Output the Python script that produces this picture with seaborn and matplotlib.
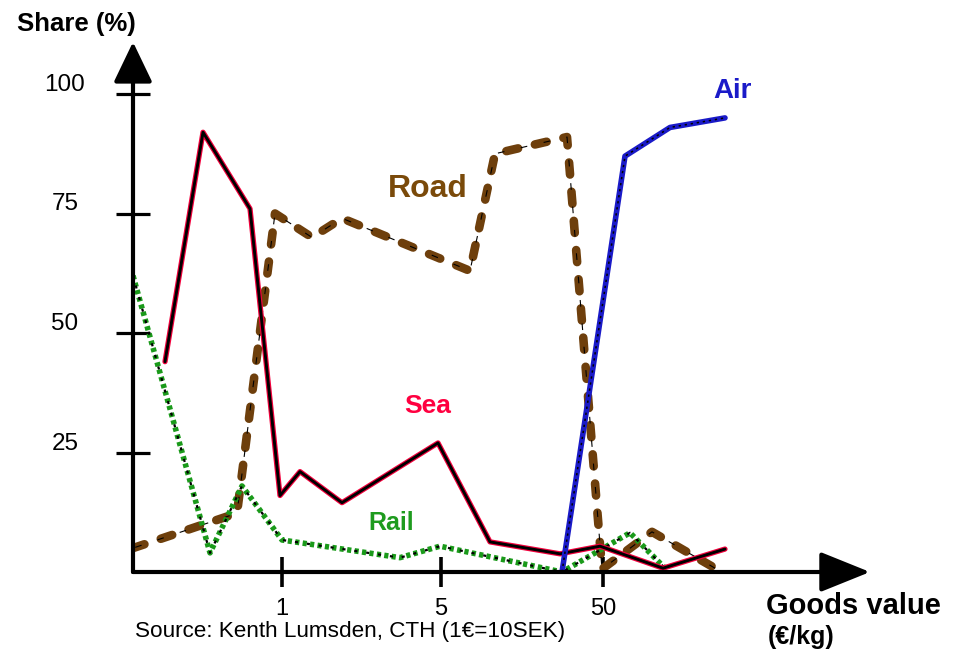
import matplotlib
matplotlib.use('Agg')
import matplotlib.pyplot as plt
import seaborn as sns
import pandas as pd

# Positions along the (non-uniform) goods-value axis, in axis units from the origin
sea_x = [32, 70, 117, 147, 167, 209, 305, 357, 427, 467, 530, 592]
sea_y = [44, 92, 76, 16, 21, 14.5, 27, 6.3, 3.8, 5.4, 0.8, 4.8]
road_x = [0, 104, 142, 179, 209, 337, 362, 434, 469, 519, 587]
road_y = [5, 12.3, 75, 70, 74, 63, 87.5, 91, 0.6, 8.4, 0.2]
rail_x = [0, 77, 109, 149, 267, 307, 429, 497, 532]
rail_y = [62, 4, 18, 6.7, 3, 5.4, 0, 8.2, 0.8]
air_x = [429, 492, 537, 592]
air_y = [0, 87, 93, 95]

y_ticks = [25, 50, 75, 100]
y_tick_labels = ['25', '50', '75', '100']
x_tick_pos = [149, 308, 470]
x_tick_labels = ['1', '5', '50']

sns.set_theme(style='white')
plt.rcParams['font.family'] = ['Liberation Sans', 'DejaVu Sans']

W, H = 961, 649
fig = plt.figure(figsize=(W / 100, H / 100), dpi=100)
fig.patch.set_facecolor('white')
ax = fig.add_axes([133 / W, (H - 572) / H, (870 - 133) / W, (572 - 42) / H])
ax.set_facecolor('white')
ax.set_xlim(0, 737)
ax.set_ylim(0, 530 / 4.78)
for s in ax.spines.values():
    s.set_visible(False)
ax.grid(False)

BROWN = '#6e3f0c'
GREEN = '#1a9a1a'
RED = '#f2003c'
BLUE = '#1a1ac8'

# Road: thick brown dashes with thin black centre
sns.lineplot(x=road_x, y=road_y, ax=ax, color=BROWN, lw=6.2, sort=False,
             estimator=None, linestyle=(0, (1.4, 2.0)), dash_capstyle='round',
             solid_joinstyle='round', zorder=3)
sns.lineplot(x=road_x, y=road_y, ax=ax, color='black', lw=0.8, sort=False,
             estimator=None, linestyle=(19.0, (6, 15.1)), zorder=3.1)

# Rail: green dotted with black dots
sns.lineplot(x=rail_x, y=rail_y, ax=ax, color=GREEN, lw=4.0, sort=False,
             estimator=None, linestyle=(0, (0.75, 0.6)), zorder=4)
sns.lineplot(x=rail_x, y=rail_y, ax=ax, color='black', lw=1.6, sort=False,
             estimator=None, linestyle=(0.8, (1.4, 4.0)), zorder=4.1)

# Sea: red line with black core
sns.lineplot(x=sea_x, y=sea_y, ax=ax, color=RED, lw=3.8, sort=False,
             estimator=None, zorder=5)
sns.lineplot(x=sea_x, y=sea_y, ax=ax, color='black', lw=2.1, sort=False,
             estimator=None, zorder=5.1)

# Air: blue line with black dotted core
sns.lineplot(x=air_x, y=air_y, ax=ax, color=BLUE, lw=4.0, sort=False,
             estimator=None, zorder=6)
sns.lineplot(x=air_x, y=air_y, ax=ax, color='black', lw=1.1, sort=False,
             estimator=None, linestyle=(0, (1.5, 2.5)), zorder=6.1)

# Axes with arrows
ax.annotate('', xy=(1, 0), xytext=(0, 0), xycoords='axes fraction',
            arrowprops=dict(arrowstyle='-|>,head_length=31,head_width=12.5',
                            mutation_scale=1, lw=3, color='black',
                            shrinkA=0, shrinkB=0), zorder=7)
ax.annotate('', xy=(0, 1), xytext=(0, 0), xycoords='axes fraction',
            arrowprops=dict(arrowstyle='-|>,head_length=25,head_width=12',
                            mutation_scale=1, lw=3, color='black',
                            shrinkA=0, shrinkB=0), zorder=7)

# Ticks
ax.set_yticks(y_ticks)
ax.set_yticklabels([])
ax.set_xticks(x_tick_pos)
ax.set_xticklabels(x_tick_labels, fontsize=17, color='black')
ax.tick_params(axis='y', direction='inout', length=25, width=2.3,
               color='black', left=True, labelleft=False)
ax.tick_params(axis='x', direction='inout', length=21, width=2.6,
               color='black', bottom=True, pad=8)
for v, lbl in zip(y_ticks, y_tick_labels):
    ax.annotate(lbl, xy=(0, v), xycoords=ax.get_yaxis_transform(),
                xytext=(-68 * 0.72, 9 * 0.72), textcoords='offset points',
                ha='center', va='center', fontsize=17.5, color='black')

# Labels
def ftext(px, py, s, **kw):
    fig.text(px / W, 1 - py / H, s, **kw)

ftext(76, 24, 'Share (%)', ha='center', va='center', fontsize=18.5,
      fontweight='bold', color='black')
ftext(766, 606, 'Goods value', ha='left', va='center', fontsize=21,
      fontweight='bold', color='black')
ftext(768, 637, '(€/kg)', ha='left', va='center', fontsize=18,
      fontweight='bold', color='black')
ftext(135, 631, 'Source: Kenth Lumsden, CTH (1€=10SEK)', ha='left',
      va='center', fontsize=16.2, color='black')

ftext(428, 189, 'Road', ha='center', va='center', fontsize=23,
      fontweight='bold', color='#7a4a0a')
ftext(428, 406, 'Sea', ha='center', va='center', fontsize=19,
      fontweight='bold', color='#ff0040')
ftext(733, 91, 'Air', ha='center', va='center', fontsize=20,
      fontweight='bold', color=BLUE)
ftext(391, 523, 'Rail', ha='center', va='center', fontsize=18,
      fontweight='bold', color='#1e9b1e')

fig.savefig('out.png', dpi=100, facecolor='white')
